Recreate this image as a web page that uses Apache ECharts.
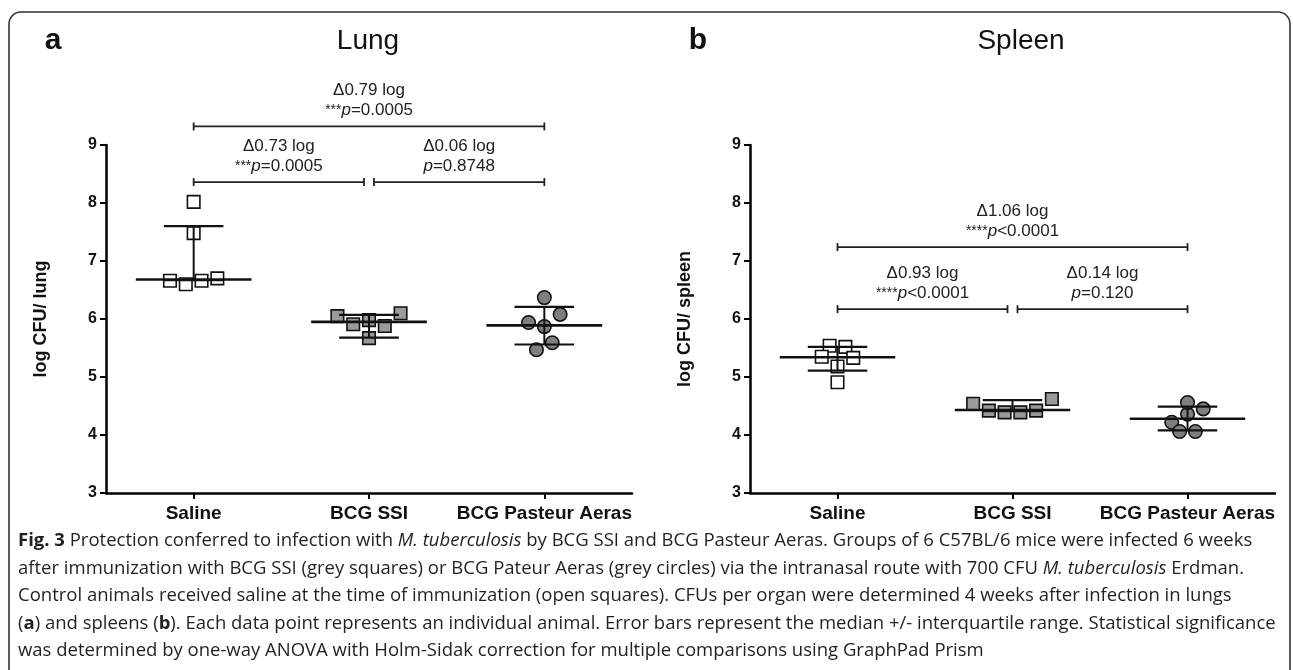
<!DOCTYPE html>
<html>
<head>
<meta charset="utf-8">
<title>Fig. 3 BCG protection</title>
<script src="https://cdn.jsdelivr.net/npm/echarts@6/dist/echarts.min.js"></script>
<style>
body{margin:0;background:#fff;}
#chart{width:1293px;height:670px;}
</style>
</head>
<body>
<div id="chart"></div>
<script>
var groups = ['Saline', 'BCG SSI', 'BCG Pasteur Aeras'];
var yMin = 3, yMax = 9, yStep = 1;

// log CFU per animal (6 mice per group)
var lungSaline  = [8.02, 7.48, 6.66, 6.60, 6.66, 6.70];
var lungSSI     = [6.05, 5.91, 5.98, 5.88, 6.10, 5.67];
var lungPasteur = [6.37, 5.94, 5.87, 6.08, 5.47, 5.59];
var spleenSaline  = [5.54, 5.52, 5.35, 5.18, 5.33, 4.91];
var spleenSSI     = [4.54, 4.42, 4.39, 4.39, 4.42, 4.62];
var spleenPasteur = [4.22, 4.36, 4.45, 4.56, 4.06, 4.06];

// median / quartiles as drawn in the figure
var lungMedian = [6.68, 5.95, 5.89];
var lungQ1     = [6.67, 5.68, 5.56];
var lungQ3     = [7.60, 6.07, 6.21];
var spleenMedian = [5.34, 4.43, 4.28];
var spleenQ1     = [5.11, 4.41, 4.08];
var spleenQ3     = [5.52, 4.60, 4.49];

// comparisons
var comps = [[0, 1], [1, 2], [0, 2]];
var lungBracketY = [8.36, 8.36, 9.32];
var lungDelta = ['Δ0.73 log', 'Δ0.06 log', 'Δ0.79 log'];
var lungP = ['***p=0.0005', 'p=0.8748', '***p=0.0005'];
var spleenBracketY = [6.17, 6.17, 7.24];
var spleenDelta = ['Δ0.93 log', 'Δ0.14 log', 'Δ1.06 log'];
var spleenP = ['****p<0.0001', 'p=0.120', '****p<0.0001'];

var caption = [
  '{b|Fig. 3} Protection conferred to infection with {i|M. tuberculosis} by BCG SSI and BCG Pasteur Aeras. Groups of 6 C57BL/6 mice were infected 6 weeks',
  'after immunization with BCG SSI (grey squares) or BCG Pateur Aeras (grey circles) via the intranasal route with 700 CFU {i|M. tuberculosis} Erdman.',
  'Control animals received saline at the time of immunization (open squares). CFUs per organ were determined 4 weeks after infection in lungs',
  '({b|a}) and spleens ({b|b}). Each data point represents an individual animal. Error bars represent the median +/- interquartile range. Statistical significance',
  'was determined by one-way ANOVA with Holm-Sidak correction for multiple comparisons using GraphPad Prism'
];

var FONT = '"Liberation Sans", Arial, sans-serif';
var CAPFONT = '"Open Sans", "Noto Sans", sans-serif';
var CAPSIZE = 18.5;
var STEP = 0.09;

// spread points of similar value side by side, like prism does
function swarm(vals, g) {
  var idx = vals.map(function(v, i) { return i; });
  idx.sort(function(a, b) { return vals[a] - vals[b]; });
  var rows = [], row = [];
  for (var k = 0; k < idx.length; k++) {
    var i = idx[k];
    if (row.length && (vals[i] - vals[row[row.length - 1]] > 0.155 || vals[i] - vals[row[0]] > 0.3)) {
      rows.push(row);
      row = [];
    }
    row.push(i);
  }
  rows.push(row);
  var out = [];
  rows.forEach(function(r) {
    r.sort(function(a, b) { return a - b; });
    r.forEach(function(i, j) {
      out[i] = [g + 0.5 + (j - (r.length - 1) / 2) * STEP, vals[i]];
    });
  });
  return out;
}

function statsData(med, q1, q3) {
  var d = [];
  for (var i = 0; i < med.length; i++) d.push([i + 0.5, med[i], q1[i], q3[i]]);
  return d;
}

function renderBars(params, api) {
  var x = api.value(0);
  var c = api.coord([x, api.value(1)]);
  var lo = api.coord([x, api.value(2)]);
  var hi = api.coord([x, api.value(3)]);
  var mw = api.size([0.33, 0])[0];
  var qw = api.size([0.17, 0])[0];
  return {
    type: 'group',
    children: [
      {type: 'line', shape: {x1: c[0], y1: lo[1], x2: c[0], y2: hi[1]}, style: {stroke: '#111', lineWidth: 2}},
      {type: 'line', shape: {x1: c[0] - mw, y1: c[1], x2: c[0] + mw, y2: c[1]}, style: {stroke: '#111', lineWidth: 2.6}},
      {type: 'line', shape: {x1: c[0] - qw, y1: lo[1], x2: c[0] + qw, y2: lo[1]}, style: {stroke: '#111', lineWidth: 2.2}},
      {type: 'line', shape: {x1: c[0] - qw, y1: hi[1], x2: c[0] + qw, y2: hi[1]}, style: {stroke: '#111', lineWidth: 2.2}}
    ]
  };
}

function pRich(s) {
  var parts = s.split('p');
  var t = '';
  if (parts[0]) t += '{s|' + parts[0] + '}';
  return t + '{i|p}{n|' + parts[1] + '}';
}

function bracketSeries(xi, yi, ys, deltas, ps) {
  var data = comps.map(function(c, k) { return [c[0], c[1], ys[k], k]; });
  return {
    type: 'custom', xAxisIndex: xi, yAxisIndex: yi, clip: false, z: 5,
    encode: {x: [0, 1], y: 2},
    data: data,
    renderItem: function(params, api) {
      var a = api.value(0), b = api.value(1), y = api.value(2), k = api.value(3);
      var p1 = api.coord([a + 0.5, y]);
      var p2 = api.coord([b + 0.5, y]);
      var gap = 5;
      if (a > 0 && a < groups.length - 1) p1[0] += gap;
      if (b > 0 && b < groups.length - 1) p2[0] -= gap;
      var st = {stroke: '#222', lineWidth: 1.8};
      var mx = (p1[0] + p2[0]) / 2;
      return {
        type: 'group',
        children: [
          {type: 'line', shape: {x1: p1[0], y1: p1[1], x2: p2[0], y2: p2[1]}, style: st},
          {type: 'line', shape: {x1: p1[0], y1: p1[1] - 4, x2: p1[0], y2: p1[1] + 4}, style: st},
          {type: 'line', shape: {x1: p2[0], y1: p2[1] - 4, x2: p2[0], y2: p2[1] + 4}, style: st},
          {type: 'text', x: mx, y: p1[1] - 36, style: {text: deltas[k], fontFamily: FONT, fontSize: 17, fill: '#222', align: 'center', verticalAlign: 'middle'}},
          {type: 'text', x: mx, y: p1[1] - 16, style: {
            text: pRich(ps[k]), align: 'center', verticalAlign: 'middle',
            fontFamily: FONT, fontSize: 17, fill: '#222',
            rich: {
              s: {fontFamily: FONT, fontSize: 14, fill: '#222'},
              i: {fontFamily: FONT, fontSize: 17, fontStyle: 'italic', fill: '#222'},
              n: {fontFamily: FONT, fontSize: 17, fill: '#222'}
            }
          }}
        ]
      };
    }
  };
}

function catAxis(grid) {
  return {
    type: 'category', gridIndex: grid, data: groups, boundaryGap: true,
    axisLine: {show: true, lineStyle: {color: '#000', width: 2.5}},
    axisTick: {show: true, alignWithLabel: true, length: 6, lineStyle: {color: '#000', width: 2}},
    axisLabel: {interval: 0, fontFamily: FONT, fontWeight: 'bold', fontSize: 19, color: '#111', margin: 11},
    splitLine: {show: false}
  };
}

function valAxis(grid) {
  return {type: 'value', gridIndex: grid, min: 0, max: groups.length, show: false};
}

function yAxisFor(grid, name) {
  return {
    type: 'value', gridIndex: grid, min: yMin, max: yMax, interval: yStep,
    name: name, nameLocation: 'middle', nameGap: 56,
    nameTextStyle: {fontFamily: FONT, fontWeight: 'bold', fontSize: 18, color: '#111'},
    axisLine: {show: true, lineStyle: {color: '#000', width: 2.5}},
    axisTick: {show: true, length: 6, lineStyle: {color: '#000', width: 2}},
    axisLabel: {fontFamily: FONT, fontWeight: 'bold', fontSize: 16, color: '#111', margin: 9},
    splitLine: {show: false}
  };
}

function dots(xi, yi, vals, g, symbol, fill, size) {
  return {
    type: 'scatter', xAxisIndex: xi, yAxisIndex: yi, symbol: symbol, symbolSize: size,
    data: swarm(vals, g), z: 2,
    itemStyle: {color: fill, borderColor: '#111', borderWidth: 1.6, opacity: 1}
  };
}

var grey1 = '#9a9a9a', grey2 = '#7f7f7f';

var capText = caption.map(function(line, i) {
  return {
    type: 'text', x: 18, y: 541 + i * 27.5,
    style: {
      text: line, fontFamily: CAPFONT, fontSize: CAPSIZE, fill: '#231f20', verticalAlign: 'middle',
      rich: {
        b: {fontFamily: CAPFONT, fontSize: CAPSIZE, fontWeight: 'bold', fill: '#231f20'},
        i: {fontFamily: CAPFONT, fontSize: CAPSIZE, fontStyle: 'italic', fill: '#231f20'}
      }
    }
  };
});

var option = {
  animation: false,
  backgroundColor: '#fff',
  grid: [
    {left: 106, top: 145, width: 526, height: 348},
    {left: 750, top: 145, width: 525, height: 348}
  ],
  xAxis: [catAxis(0), valAxis(0), catAxis(1), valAxis(1)],
  yAxis: [yAxisFor(0, 'log CFU/ lung'), yAxisFor(1, 'log CFU/ spleen')],
  graphic: [
    {type: 'rect', shape: {x: 9, y: 12, width: 1281, height: 720, r: 12}, style: {fill: 'none', stroke: '#333', lineWidth: 1.6}},
    {type: 'text', x: 53, y: 41, style: {text: 'a', fontFamily: FONT, fontWeight: 'bold', fontSize: 30, fill: '#111', align: 'center', verticalAlign: 'middle'}},
    {type: 'text', x: 698, y: 41, style: {text: 'b', fontFamily: FONT, fontWeight: 'bold', fontSize: 30, fill: '#111', align: 'center', verticalAlign: 'middle'}},
    {type: 'text', x: 368, y: 41, style: {text: 'Lung', fontFamily: FONT, fontSize: 28, fill: '#111', align: 'center', verticalAlign: 'middle'}},
    {type: 'text', x: 1021, y: 41, style: {text: 'Spleen', fontFamily: FONT, fontSize: 28, fill: '#111', align: 'center', verticalAlign: 'middle'}}
  ].concat(capText),
  series: [
    dots(1, 0, lungSaline, 0, 'rect', '#fff', 12.5),
    dots(1, 0, lungSSI, 1, 'rect', grey1, 12.5),
    dots(1, 0, lungPasteur, 2, 'circle', grey2, 13.5),
    dots(3, 1, spleenSaline, 0, 'rect', '#fff', 12.5),
    dots(3, 1, spleenSSI, 1, 'rect', grey1, 12.5),
    dots(3, 1, spleenPasteur, 2, 'circle', grey2, 13.5),
    {type: 'custom', xAxisIndex: 1, yAxisIndex: 0, z: 4, encode: {x: 0, y: [1, 2, 3]},
     data: statsData(lungMedian, lungQ1, lungQ3), renderItem: renderBars},
    {type: 'custom', xAxisIndex: 3, yAxisIndex: 1, z: 4, encode: {x: 0, y: [1, 2, 3]},
     data: statsData(spleenMedian, spleenQ1, spleenQ3), renderItem: renderBars},
    bracketSeries(1, 0, lungBracketY, lungDelta, lungP),
    bracketSeries(3, 1, spleenBracketY, spleenDelta, spleenP)
  ]
};

var chart = echarts.init(document.getElementById('chart'));
chart.setOption(option);
</script>
</body>
</html>
